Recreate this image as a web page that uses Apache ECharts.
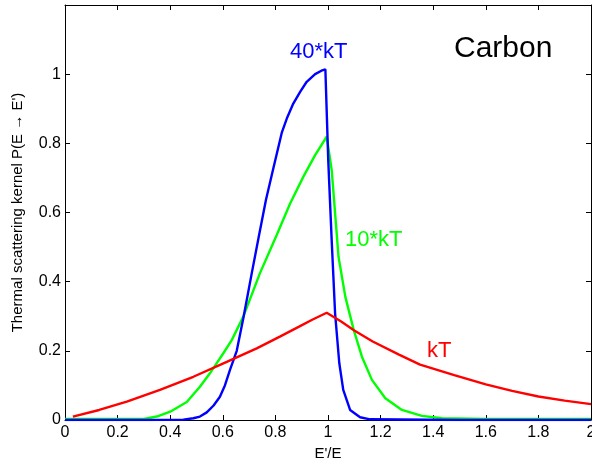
<!DOCTYPE html>
<html>
<head>
<meta charset="utf-8">
<script src="https://cdn.jsdelivr.net/npm/echarts@6/dist/echarts.min.js"></script>
<style>
html,body{margin:0;padding:0;background:#fff;}
#c{width:592px;height:463px;}
</style>
</head>
<body>
<div id="c"></div>
<script>
// kT (red)
var kT_x = [0.03, 0.13, 0.235, 0.361, 0.488, 0.615, 0.729, 0.817, 0.89, 0.94, 0.995, 1.05, 1.10, 1.17, 1.27, 1.35, 1.48, 1.60, 1.70, 1.80, 1.90, 2.0];
var kT_y = [0.010, 0.029, 0.053, 0.087, 0.125, 0.168, 0.207, 0.241, 0.270, 0.290, 0.310, 0.285, 0.259, 0.227, 0.189, 0.160, 0.130, 0.103, 0.084, 0.068, 0.056, 0.046];
// 10*kT (green)
var kT10_x = [0, 0.3, 0.349, 0.4, 0.463, 0.513, 0.551, 0.602, 0.634, 0.678, 0.741, 0.805, 0.856, 0.906, 0.951, 0.995, 1.014, 1.033, 1.04, 1.066, 1.098, 1.129, 1.167, 1.218, 1.281, 1.357, 1.433, 1.6, 2.0];
var kT10_y = [0.003, 0.003, 0.010, 0.024, 0.052, 0.096, 0.135, 0.193, 0.231, 0.299, 0.424, 0.535, 0.626, 0.703, 0.766, 0.819, 0.723, 0.54, 0.472, 0.356, 0.26, 0.183, 0.116, 0.063, 0.029, 0.012, 0.005, 0.003, 0.003];
// 40*kT (blue)
var kT40_x = [0, 0.32, 0.45, 0.488, 0.513, 0.539, 0.565, 0.589, 0.608, 0.627, 0.653, 0.678, 0.71, 0.738, 0.764, 0.792, 0.824, 0.845, 0.868, 0.894, 0.919, 0.951, 0.975, 0.99, 1.001, 1.014, 1.027, 1.043, 1.058, 1.084, 1.122, 1.16, 1.5, 2.0];
var kT40_y = [0, 0, 0.001, 0.005, 0.010, 0.022, 0.042, 0.067, 0.100, 0.144, 0.200, 0.294, 0.424, 0.535, 0.636, 0.727, 0.830, 0.875, 0.915, 0.949, 0.978, 1.000, 1.010, 1.014, 0.75, 0.52, 0.308, 0.164, 0.087, 0.029, 0.008, 0.002, 0, 0];

var xTicks = {min: 0, max: 2, interval: 0.2};
var yTicks = {min: 0, max: 1.2, interval: 0.2};

function zip(xs, ys) { return xs.map(function (x, i) { return [x, ys[i]]; }); }

var FONT = 'Liberation Sans, Arial, sans-serif';
var axisLine = {show: true, onZero: false, lineStyle: {color: '#000', width: 1}};
var tick = {show: true, inside: true, length: 5, lineStyle: {color: '#000', width: 1}};

var chart = echarts.init(document.getElementById('c'), null, {renderer: 'canvas'});
chart.setOption({
  animation: false,
  backgroundColor: '#fff',
  grid: {left: 65, right: 1, top: 5, bottom: 43, containLabel: false, outerBoundsMode: 'none'},
  xAxis: [{
    type: 'value', position: 'bottom', min: xTicks.min, max: xTicks.max, interval: xTicks.interval,
    axisLine: axisLine, axisTick: tick, splitLine: {show: false},
    axisLabel: {color: '#000', fontSize: 16, fontFamily: FONT, margin: 5},
    name: "E'/E", nameLocation: 'middle', nameGap: 26,
    nameTextStyle: {color: '#000', fontSize: 15, fontFamily: FONT}
  }, {
    type: 'value', position: 'top', min: xTicks.min, max: xTicks.max, interval: xTicks.interval,
    axisLine: axisLine, axisTick: tick, splitLine: {show: false}, axisLabel: {show: false}
  }],
  yAxis: [{
    type: 'value', position: 'left', min: yTicks.min, max: yTicks.max, interval: yTicks.interval,
    axisLine: axisLine, axisTick: tick, splitLine: {show: false},
    axisLabel: {color: '#000', fontSize: 16, fontFamily: FONT, margin: 4,
      formatter: function (v) { return v > 1.1 ? '' : String(Math.round(v * 10) / 10); }},
    name: "Thermal scattering kernel P(E \u2192 E')", nameLocation: 'middle', nameGap: 40,
    nameTextStyle: {color: '#000', fontSize: 15, fontFamily: FONT}
  }, {
    type: 'value', position: 'right', min: yTicks.min, max: yTicks.max, interval: yTicks.interval,
    axisLine: axisLine, axisTick: tick, splitLine: {show: false}, axisLabel: {show: false}
  }],
  series: [{
    name: '10*kT', type: 'line', data: zip(kT10_x, kT10_y), showSymbol: false,
    lineStyle: {color: '#00ff00', width: 2.4}, itemStyle: {color: '#00ff00'}
  }, {
    name: '40*kT', type: 'line', data: zip(kT40_x, kT40_y), showSymbol: false,
    lineStyle: {color: '#0000ff', width: 2.4}, itemStyle: {color: '#0000ff'}
  }, {
    name: 'kT', type: 'line', data: zip(kT_x, kT_y), showSymbol: false,
    lineStyle: {color: '#ff0000', width: 2.4}, itemStyle: {color: '#ff0000'}
  }],
  graphic: [
    {type: 'text', left: 290, top: 41, style: {text: '40*kT', fill: '#0000ff', font: '22px ' + FONT}},
    {type: 'text', left: 345, top: 229, style: {text: '10*kT', fill: '#00ff00', font: '22px ' + FONT}},
    {type: 'text', left: 427, top: 340, style: {text: 'kT', fill: '#ff0000', font: '22px ' + FONT}},
    {type: 'text', left: 454, top: 34, style: {text: 'Carbon', fill: '#000', font: '30px ' + FONT}}
  ]
});
</script>
</body>
</html>
